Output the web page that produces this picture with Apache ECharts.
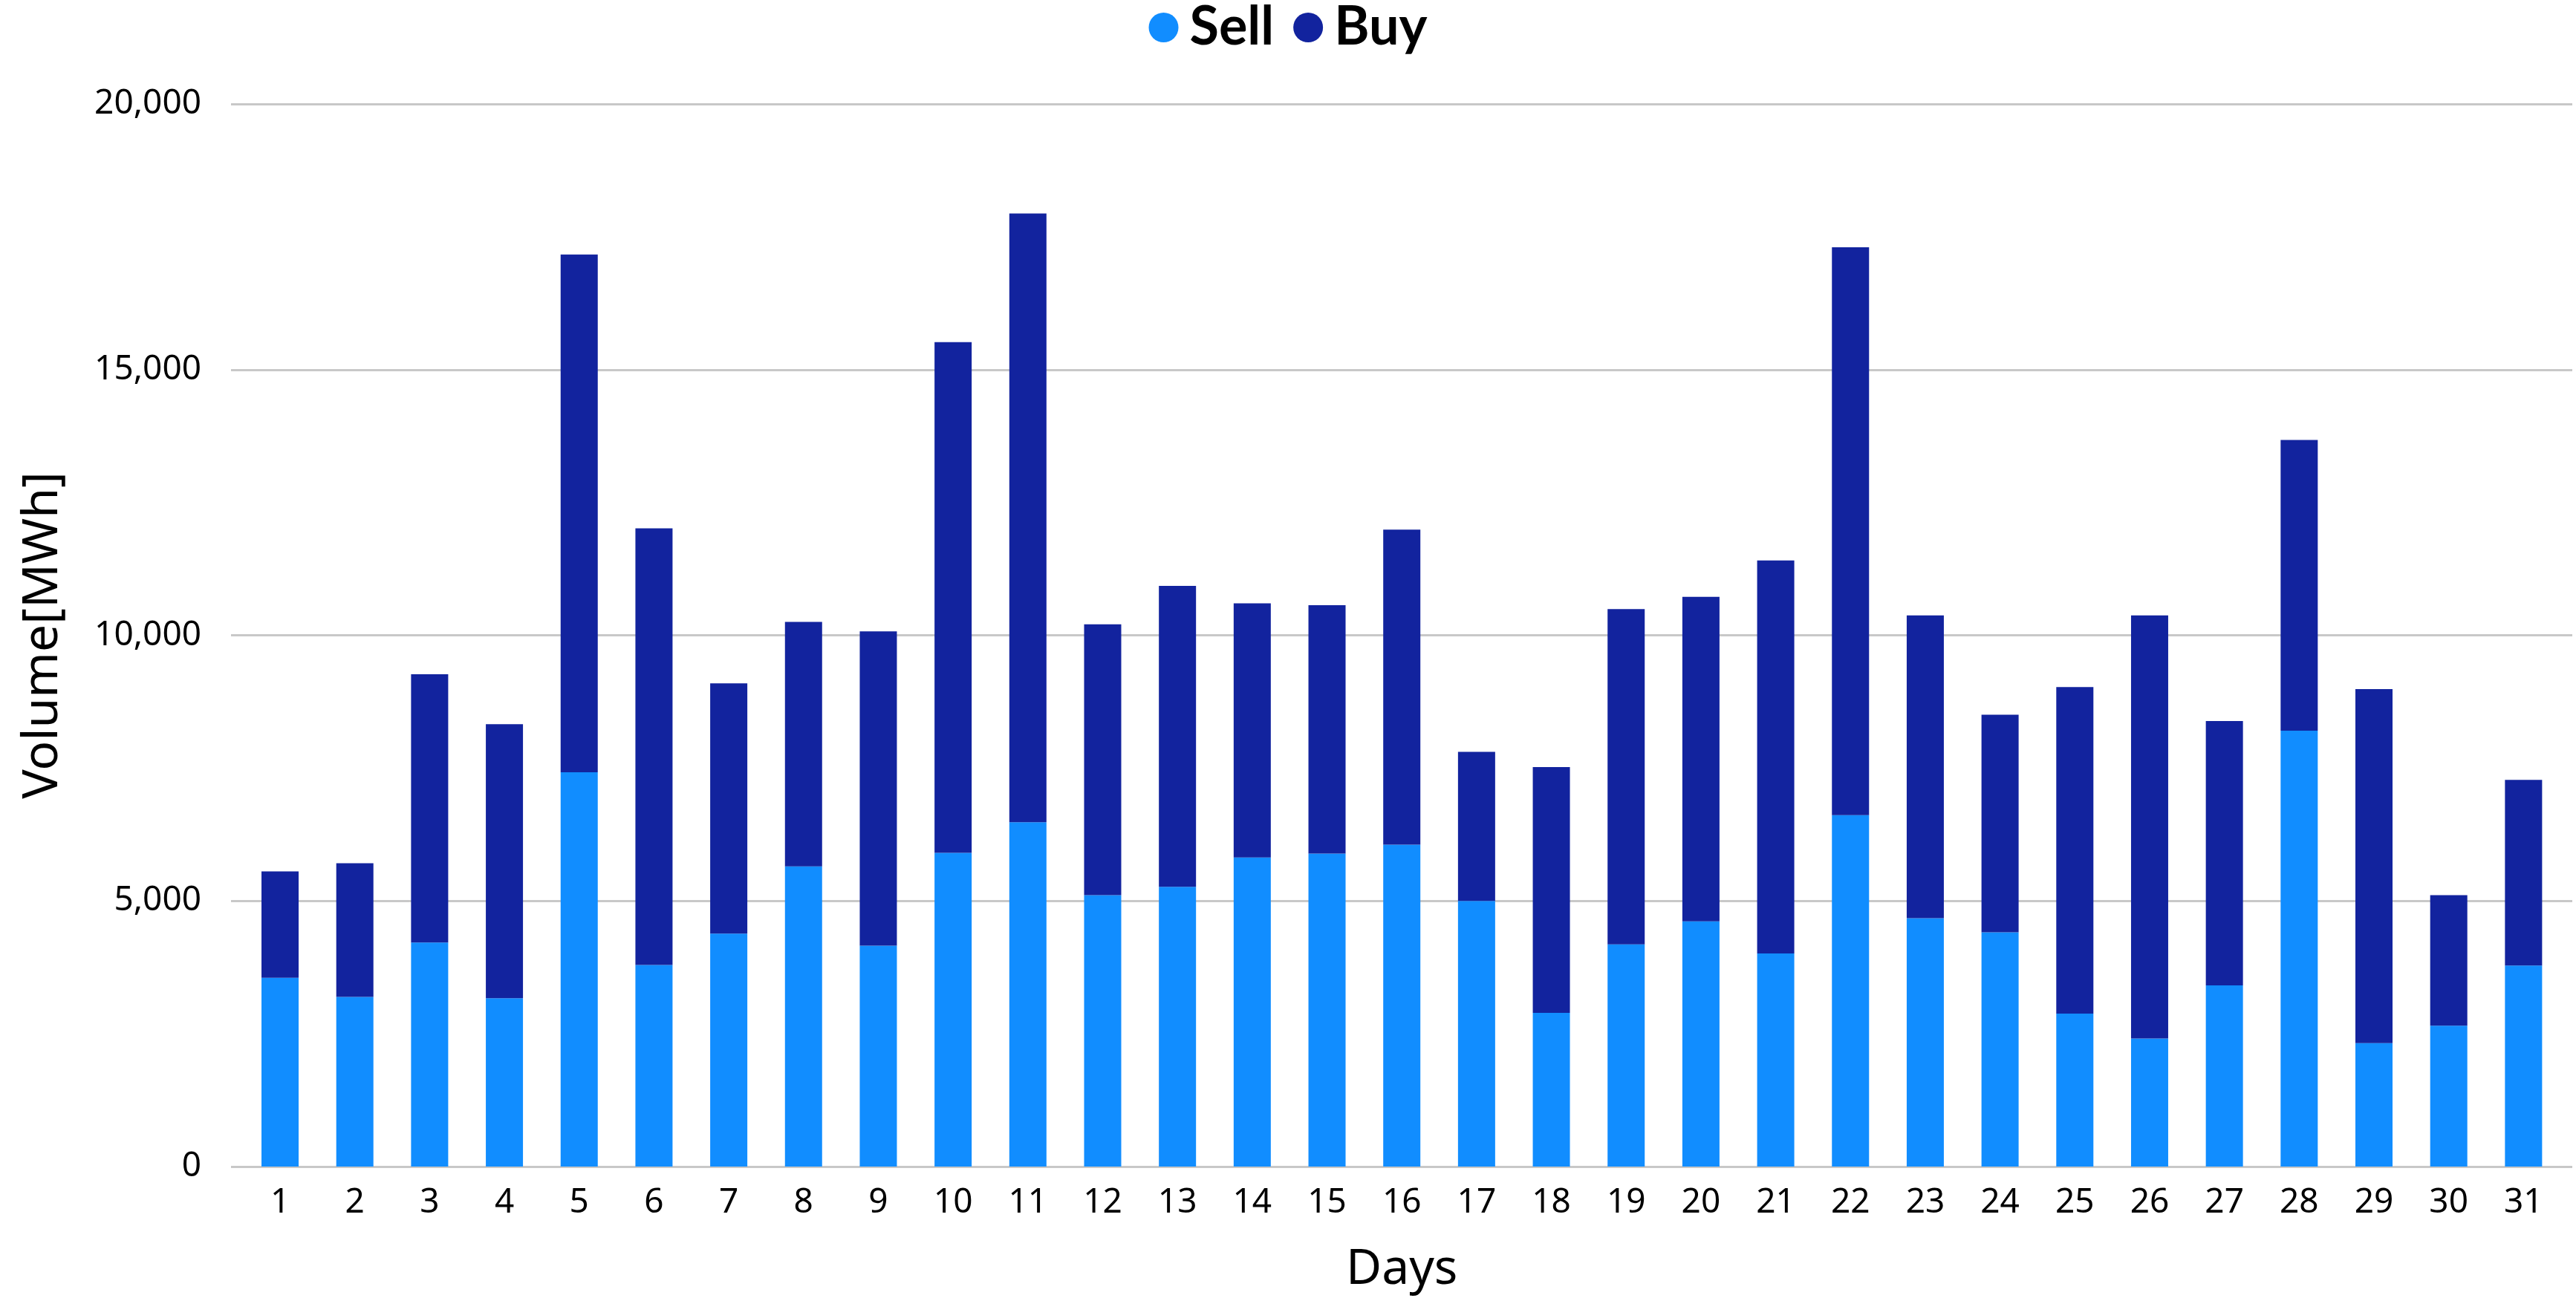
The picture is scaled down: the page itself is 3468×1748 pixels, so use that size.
<!DOCTYPE html>
<html>
<head>
<meta charset="utf-8">
<title>Daily Sell and Buy Volume</title>
<script src="https://cdn.jsdelivr.net/npm/echarts@6/dist/echarts.min.js"></script>
<style>
  html, body { margin: 0; padding: 0; background: #ffffff; }
  #chart { width: 3468px; height: 1748px; }
</style>
</head>
<body>
<div id="chart"></div>
<script>
// Days of the month on the category axis
const days = ['1','2','3','4','5','6','7','8','9','10','11','12','13','14','15','16',
              '17','18','19','20','21','22','23','24','25','26','27','28','29','30','31'];

// Daily sold volume (MWh)
const sellVolume = [3554, 3193, 4217, 3169, 7422, 3795, 4385, 5650, 4157, 5904, 6482,
                    5108, 5265, 5819, 5891, 6060, 5000, 2892, 4181, 4614, 4012, 6614,
                    4675, 4410, 2879, 2410, 3410, 8205, 2325, 2651, 3783];

// Daily bought volume (MWh), stacked on top of the sold volume
const buyVolume = [2000, 2518, 5048, 5156, 9746, 8217, 4711, 4603, 5915, 9614, 11458,
                   5097, 5663, 4783, 4675, 5928, 2807, 4626, 6313, 6109, 7397, 10687,
                   5698, 4096, 6145, 7963, 4975, 5470, 6663, 2457, 3494];

// Value axis ticks
const yTicks = [0, 5000, 10000, 15000, 20000];

const seriesNames = ['Sell', 'Buy'];
const seriesColors = ['#118DFF', '#12239E'];

const axisFont = '"Noto Sans", "Open Sans", sans-serif';
const gridColor = '#C8C8C8';

const yMin = yTicks[0];
const yMax = yTicks[yTicks.length - 1];
const yStep = yTicks[1] - yTicks[0];

const chart = echarts.init(document.getElementById('chart'), null, { renderer: 'canvas' });

chart.setOption({
  backgroundColor: '#ffffff',
  animation: false,
  color: seriesColors,
  legend: {
    data: seriesNames,
    left: 'center',
    top: -4,
    icon: 'circle',
    itemWidth: 60,
    itemHeight: 40,
    itemGap: 26,
    textStyle: {
      fontFamily: 'Lato, "Noto Sans", sans-serif',
      fontWeight: 'bold',
      fontSize: 72,
      color: '#000000'
    }
  },
  grid: [
    // frame grid: gridlines and value labels span the full plot width
    { left: 311, right: 5, top: 140, bottom: 177, containLabel: false },
    // bar grid: category bands sit slightly inside the frame
    { left: 326.7, right: 20.3, top: 140, bottom: 177, containLabel: false }
  ],
  xAxis: [
    { gridIndex: 0, type: 'value', min: 0, max: 1, show: false },
    {
      gridIndex: 1,
      type: 'category',
      data: days,
      boundaryGap: true,
      axisLine: { show: false },
      axisTick: { show: false },
      axisLabel: {
        fontFamily: axisFont,
        fontSize: 46,
        color: '#000000',
        margin: 26
      },
      name: 'Days',
      nameLocation: 'middle',
      nameGap: 106,
      nameTextStyle: {
        fontFamily: axisFont,
        fontSize: 66,
        color: '#000000'
      }
    }
  ],
  yAxis: [
    {
      gridIndex: 0,
      type: 'value',
      min: yMin,
      max: yMax,
      interval: yStep,
      axisLine: { show: false },
      axisTick: { show: false },
      splitLine: { show: true, lineStyle: { color: gridColor, width: 3 } },
      axisLabel: {
        fontFamily: axisFont,
        fontSize: 46,
        color: '#000000',
        margin: 40,
        formatter: v => v.toLocaleString('en-US')
      },
      name: 'Volume[MWh]',
      nameLocation: 'middle',
      nameRotate: 90,
      nameGap: 220,
      nameTextStyle: {
        fontFamily: axisFont,
        fontSize: 66,
        color: '#000000'
      }
    },
    {
      gridIndex: 1,
      type: 'value',
      min: yMin,
      max: yMax,
      interval: yStep,
      show: false
    }
  ],
  series: [
    {
      name: seriesNames[0],
      type: 'bar',
      stack: 'volume',
      xAxisIndex: 1,
      yAxisIndex: 1,
      barWidth: 50,
      data: sellVolume,
      itemStyle: { color: seriesColors[0] }
    },
    {
      name: seriesNames[1],
      type: 'bar',
      stack: 'volume',
      xAxisIndex: 1,
      yAxisIndex: 1,
      barWidth: 50,
      data: buyVolume,
      itemStyle: { color: seriesColors[1] }
    }
  ]
});
</script>
</body>
</html>
